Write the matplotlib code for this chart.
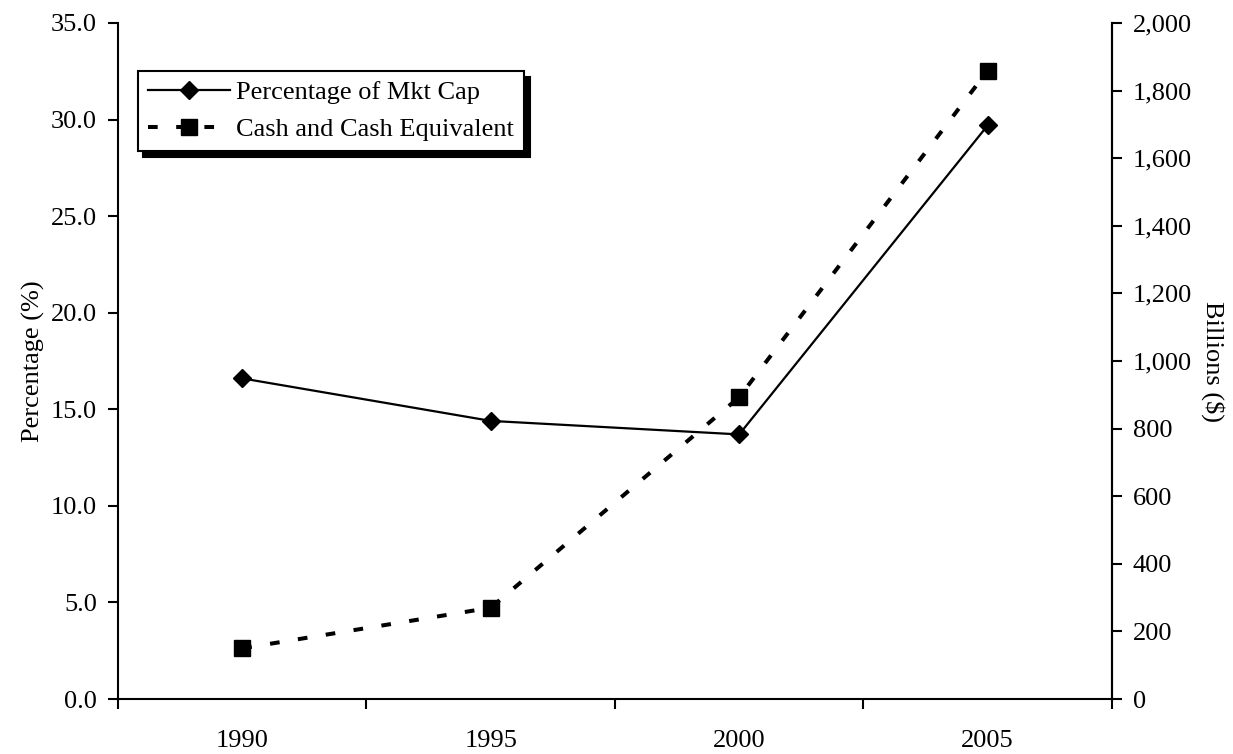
import matplotlib
matplotlib.use("Agg")
import matplotlib.pyplot as plt
from matplotlib.ticker import FixedLocator, FuncFormatter, NullFormatter

# Data
years = ["1990", "1995", "2000", "2005"]
pct_mkt_cap = [16.6, 14.4, 13.7, 29.7]          # percent
cash_equiv = [150, 270, 893, 1859]               # billions of dollars

plt.rcParams["font.family"] = ["Liberation Serif", "DejaVu Serif"]
plt.rcParams["font.size"] = 19

fig = plt.figure(figsize=(12.33, 7.54), dpi=100)
ax = fig.add_axes([0.0957, 0.0729, 0.8061, 0.8966])
ax2 = ax.twinx()

x = list(range(len(years)))

l1, = ax.plot(x, pct_mkt_cap, color="black", lw=1.6, marker="D",
              markersize=9, label="Percentage of Mkt Cap", zorder=3)
l2, = ax2.plot(x, cash_equiv, color="black", lw=2.9, ls=(0, (2.4, 4.6)),
               marker="s", markersize=11, label="Cash and Cash Equivalent",
               zorder=3)

ax.set_xlim(-0.5, len(years) - 0.5)
ax.set_ylim(0, 35)
ax2.set_ylim(0, 2000)

# Category axis: ticks between categories, labels centred on each
ax.xaxis.set_major_locator(FixedLocator([i - 0.5 for i in range(len(years) + 1)]))
ax.xaxis.set_major_formatter(NullFormatter())
ax.xaxis.set_minor_locator(FixedLocator(x))
ax.set_xticklabels(years, minor=True)
ax.tick_params(axis="x", which="major", direction="out", length=7, width=1.5)
ax.tick_params(axis="x", which="minor", length=0, pad=22)

ax.set_yticks([0, 5, 10, 15, 20, 25, 30, 35])
ax.yaxis.set_major_formatter(FuncFormatter(lambda v, p: f"{v:.1f}"))
ax.tick_params(axis="y", direction="out", length=7, width=1.5, pad=8)

ax2.set_yticks(range(0, 2001, 200))
ax2.yaxis.set_major_formatter(FuncFormatter(lambda v, p: f"{int(v):,}"))
ax2.tick_params(axis="y", direction="out", length=7, width=1.5, pad=8)

for a in (ax, ax2):
    a.spines["top"].set_visible(False)
    for s in ("left", "right", "bottom"):
        a.spines[s].set_linewidth(1.5)
ax2.spines["left"].set_visible(False)
ax2.spines["bottom"].set_visible(False)

ax.set_ylabel("Percentage (%)", labelpad=4)
ax2.set_ylabel("Billions ($)", rotation=270, labelpad=24)

leg = ax.legend(handles=[l1, l2], loc="upper left",
                bbox_to_anchor=(0.02, 0.929), borderaxespad=0,
                fancybox=False, framealpha=1, edgecolor="black",
                handlelength=3.1, handletextpad=0.25, borderpad=0.38,
                labelspacing=0.5, fontsize=19,
                shadow={"ox": 4, "oy": -4, "color": "black", "alpha": 1})
leg.get_frame().set_linewidth(1.5)
leg.set_zorder(5)
ax.set_zorder(ax2.get_zorder() + 1)
ax.patch.set_visible(False)

fig.savefig("out.png", dpi=100)
